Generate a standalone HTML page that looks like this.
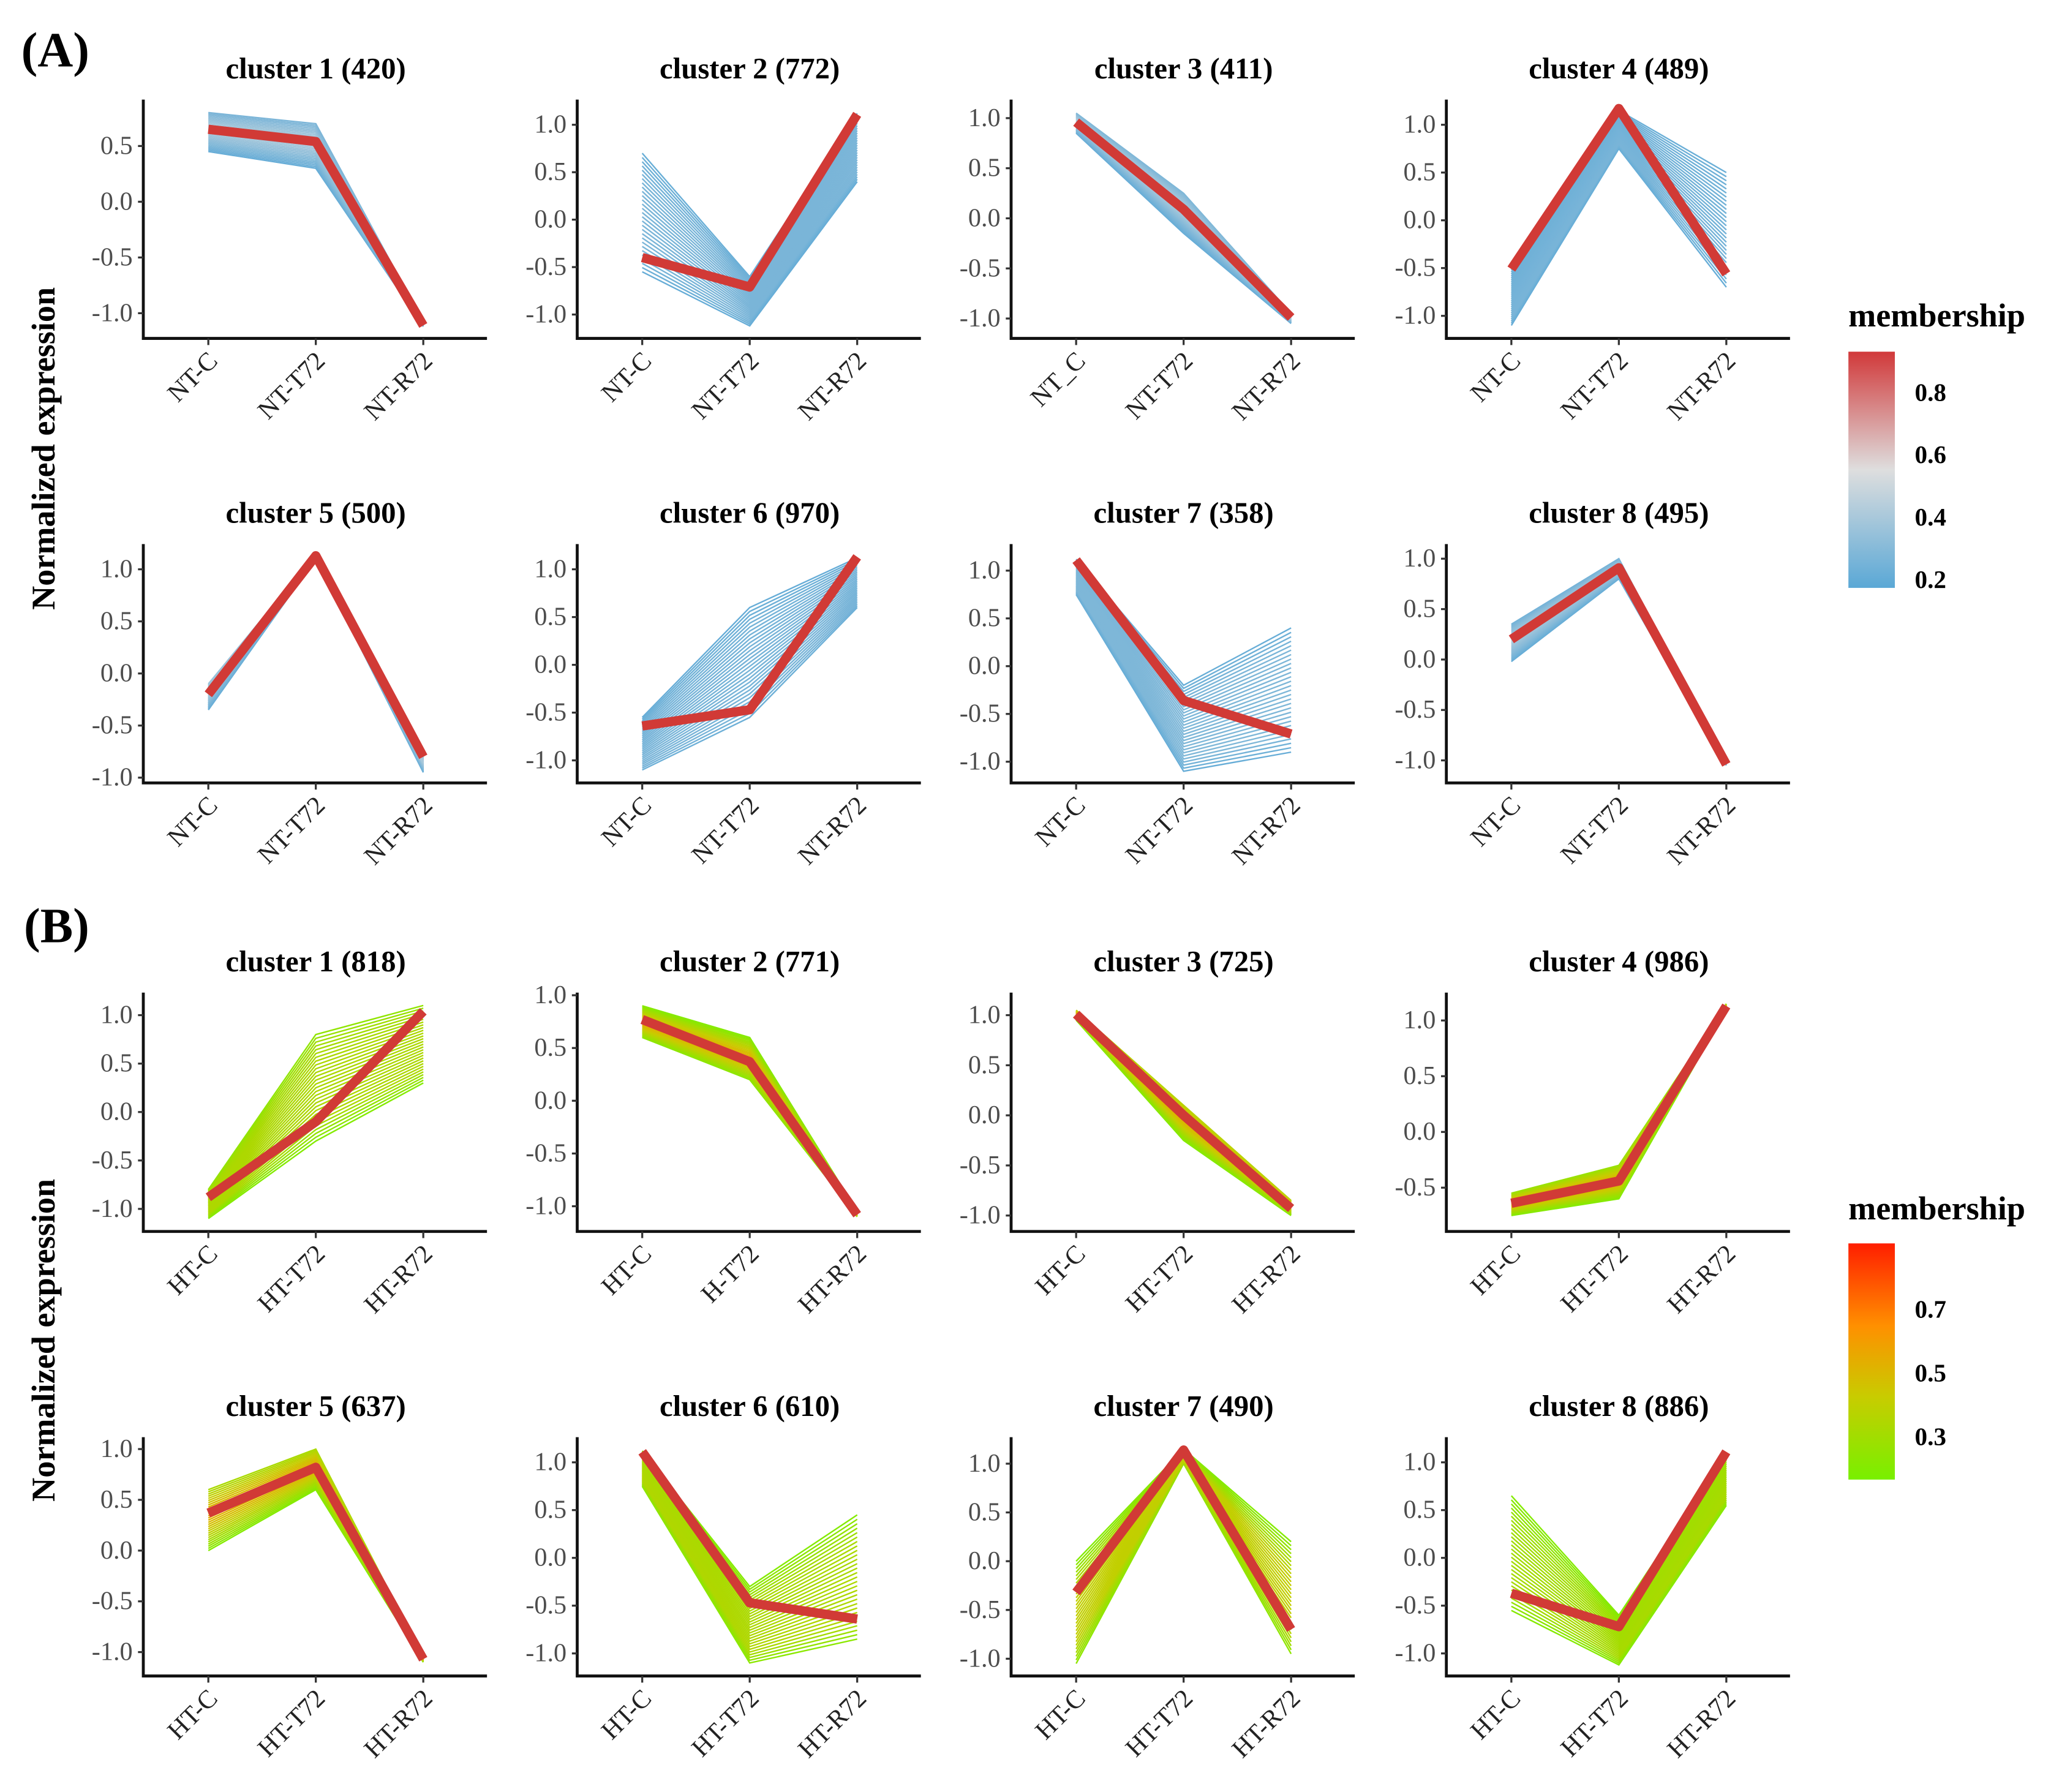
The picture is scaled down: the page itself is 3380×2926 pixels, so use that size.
<!DOCTYPE html>
<html><head><meta charset="utf-8">
<style>html,body{margin:0;padding:0;background:#fff}svg{display:block}svg text{font-family:"Liberation Serif","DejaVu Serif",serif}</style>
</head><body>
<svg id="fig" width="3380" height="2926" viewBox="0 0 1560 1350.4" font-family="Liberation Serif, serif" xmlns="http://www.w3.org/2000/svg">
<defs>
<linearGradient id="gA" x1="0" y1="0" x2="0" y2="1"><stop offset="0" stop-color="#d1393a"/><stop offset="0.5" stop-color="#dedede"/><stop offset="1" stop-color="#5aa8d6"/></linearGradient>
<linearGradient id="gB" x1="0" y1="0" x2="0" y2="1"><stop offset="0" stop-color="#ff1e00"/><stop offset="0.35" stop-color="#ff9000"/><stop offset="0.65" stop-color="#c8cc00"/><stop offset="1" stop-color="#78f000"/></linearGradient>
</defs>
<text x="16" y="50" font-size="37" font-weight="bold">(A)</text>
<text x="18" y="710" font-size="37" font-weight="bold">(B)</text>
<text transform="translate(41,338) rotate(-90)" text-anchor="middle" font-size="25" font-weight="bold">Normalized expression</text>
<text transform="translate(41,1010) rotate(-90)" text-anchor="middle" font-size="25" font-weight="bold">Normalized expression</text>
<g>
<text x="1393" y="246" font-size="25" font-weight="bold">membership</text>
<rect x="1393" y="265" width="35" height="178" fill="url(#gA)"/>
<text x="1443" y="302" font-size="19" font-weight="bold">0.8</text><text x="1443" y="349" font-size="19" font-weight="bold">0.6</text><text x="1443" y="396" font-size="19" font-weight="bold">0.4</text><text x="1443" y="443" font-size="19" font-weight="bold">0.2</text>
</g>
<g>
<text x="1393" y="919" font-size="25" font-weight="bold">membership</text>
<rect x="1393" y="937" width="35" height="178" fill="url(#gB)"/>
<text x="1443" y="993" font-size="19" font-weight="bold">0.7</text><text x="1443" y="1041" font-size="19" font-weight="bold">0.5</text><text x="1443" y="1089" font-size="19" font-weight="bold">0.3</text>
</g>
<g id="panels"></g>
</svg>
<script>
const titles=["cluster 1 (420)","cluster 2 (772)","cluster 3 (411)","cluster 4 (489)","cluster 5 (500)","cluster 6 (970)","cluster 7 (358)","cluster 8 (495)",
"cluster 1 (818)","cluster 2 (771)","cluster 3 (725)","cluster 4 (986)","cluster 5 (637)","cluster 6 (610)","cluster 7 (490)","cluster 8 (886)"];
const centroids=[[0.65,0.54,-1.11],[-0.4,-0.71,1.11],[0.96,0.09,-0.99],[-0.51,1.17,-0.56],[-0.2,1.13,-0.8],[-0.64,-0.47,1.13],[1.11,-0.36,-0.71],[0.2,0.91,-1.04],
[-0.88,-0.1,1.04],[0.77,0.37,-1.08],[1.01,0.0,-0.93],[-0.64,-0.44,1.13],[0.37,0.82,-1.07],[1.11,-0.47,-0.64],[-0.32,1.14,-0.7],[-0.37,-0.72,1.11]];
const memberLo=[[0.45,0.3,-1.12],[-0.55,-1.12,0.4],[0.85,-0.15,-1.05],[-1.1,0.75,-0.7],[-0.35,1.1,-0.95],[-1.1,-0.55,0.6],[0.75,-1.1,-0.9],[-0.02,0.8,-1.05],
[-1.1,-0.3,0.3],[0.6,0.2,-1.1],[0.95,-0.25,-1.0],[-0.75,-0.6,1.1],[0.0,0.6,-1.1],[0.75,-1.1,-0.85],[-1.05,1.0,-0.95],[-0.55,-1.12,0.55]];
const memberHi=[[0.8,0.7,-1.08],[0.7,-0.6,1.12],[1.05,0.25,-0.95],[-0.5,1.15,0.5],[-0.1,1.15,-0.8],[-0.55,0.6,1.12],[1.12,-0.2,0.4],[0.35,1.0,-1.0],
[-0.8,0.8,1.1],[0.9,0.6,-1.05],[1.05,0.1,-0.85],[-0.55,-0.3,1.15],[0.6,1.0,-1.05],[1.12,-0.3,0.45],[0.0,1.15,0.2],[0.65,-0.6,1.1]];
const xLabelsA=[["NT-C","NT-T72","NT-R72"],["NT-C","NT-T72","NT-R72"],["NT_C","NT-T72","NT-R72"],["NT-C","NT-T72","NT-R72"],["NT-C","NT-T72","NT-R72"],["NT-C","NT-T72","NT-R72"],["NT-C","NT-T72","NT-R72"],["NT-C","NT-T72","NT-R72"]];
const xLabelsB=[["HT-C","HT-T72","HT-R72"],["HT-C","H-T72","HT-R72"],["HT-C","HT-T72","HT-R72"],["HT-C","HT-T72","HT-R72"],["HT-C","HT-T72","HT-R72"],["HT-C","HT-T72","HT-R72"],["HT-C","HT-T72","HT-R72"],["HT-C","HT-T72","HT-R72"]];
const yTicks=[[0.5,0,-0.5,-1],[1,0.5,0,-0.5,-1],[1,0.5,0,-0.5,-1],[1,0.5,0,-0.5,-1],[1,0.5,0,-0.5,-1],[1,0.5,0,-0.5,-1],[1,0.5,0,-0.5,-1],[1,0.5,0,-0.5,-1],
[1,0.5,0,-0.5,-1],[1,0.5,0,-0.5,-1],[1,0.5,0,-0.5,-1],[1,0.5,0,-0.5],[1,0.5,0,-0.5,-1],[1,0.5,0,-0.5,-1],[1,0.5,0,-0.5,-1],[1,0.5,0,-0.5,-1]];
// layout (pixel geometry, not data)
const colX=[108,435,762,1090], rowBase=[255,590,928,1263];
const zeroY=[152,165.5,164.5,166,507.5,501,502,497,838,829.5,840.5,853,1168.5,1174,1176.5,1174];
const pxPerUnit=[84,71.5,75.5,72,78.5,72,72,76,73,79.5,75.5,84,76.5,72,73.5,72];
const NS="http://www.w3.org/2000/svg";
const root=document.getElementById('panels');
function mk(t,a,p){const e=document.createElementNS(NS,t);for(const k in a)e.setAttribute(k,a[k]);p.appendChild(e);return e;}
function fmt(v){return v.toFixed(1).replace("-0.0","0.0");}
function colA(m){
  const c1=[90,168,214],c2=[222,222,222],c3=[209,57,58];
  let a,b,t; if(m<0.5){a=c1;b=c2;t=m/0.5;}else{a=c2;b=c3;t=(m-0.5)/0.5;}
  return `rgb(${a.map((v,i)=>Math.round(v+(b[i]-v)*t)).join(',')})`;}
function colB(m){
  const s=[[120,240,0],[200,204,0],[255,144,0],[255,30,0]];
  const f=m*3,i=Math.min(2,Math.floor(f)),t=f-i,a=s[i],b=s[i+1];
  return `rgb(${a.map((v,j)=>Math.round(v+(b[j]-v)*t)).join(',')})`;}
for(let p=0;p<16;p++){
  const isB=p>=8, r=Math.floor(p/4), c=p%4;
  const x0=colX[c], base=rowBase[r], top=base-180, x1=x0+259;
  const cx=[x0+49,x0+130,x0+211];
  const y=v=>zeroY[p]-v*pxPerUnit[p];
  const g=mk('g',{},root);
  
  
  const ti=mk('text',{x:cx[1],y:top-16,'text-anchor':'middle','font-size':22.5,'font-weight':'bold'},g);ti.textContent=titles[p];
  
  
  const N=28, lines=[];
  for(let k=0;k<=N;k++){const t=k/N;const v=[0,1,2].map(i=>memberLo[p][i]+(memberHi[p][i]-memberLo[p][i])*t);
    const d=v.reduce((s,vv,i)=>s+Math.abs(vv-centroids[p][i]),0)/3; lines.push({v,d});}
  const dmax=Math.max(...lines.map(l=>l.d))||1;
  lines.sort((a,b)=>b.d-a.d);
  const mg=mk('g',{},g);
  
  
  for(const l of lines){const m=1-l.d/dmax; const col=isB?colB(0.05+m*0.5):colA(0.05+m*0.3);
    const pl=mk('polyline',{points:l.v.map((vv,i)=>cx[i]+','+y(vv)).join(' '),fill:'none',stroke:col,'stroke-width':1.1},mg);
    
    }
  const cl=mk('polyline',{points:centroids[p].map((v,i)=>cx[i]+','+y(v)).join(' '),fill:'none',stroke:'#d13a36','stroke-width':7,'stroke-linejoin':'round'},g);
  
  
  const ax=mk('path',{d:`M${x0},${top} V${base} H${x1}`,fill:'none',stroke:'#111','stroke-width':2.2},g);
  
  
  for(const v of yTicks[p]){mk('line',{x1:x0-4,x2:x0,y1:y(v),y2:y(v),stroke:'#333','stroke-width':1.5},g);
    const tt=mk('text',{x:x0-8,y:y(v)+6,'text-anchor':'end','font-size':19.5,fill:'#4d4d4d'},g);tt.textContent=fmt(v);
    
    }
  const labs=isB?xLabelsB[p-8]:xLabelsA[p];
  for(let i=0;i<3;i++){mk('line',{x1:cx[i],x2:cx[i],y1:base,y2:base+5,stroke:'#333','stroke-width':1.5},g);
    const tt=mk('text',{transform:`translate(${cx[i]+8},${base+18}) rotate(-45)`,'text-anchor':'end','font-size':19.5,fill:'#222'},g);tt.textContent=labs[i];
    
    }
}
</script>
</body></html>
